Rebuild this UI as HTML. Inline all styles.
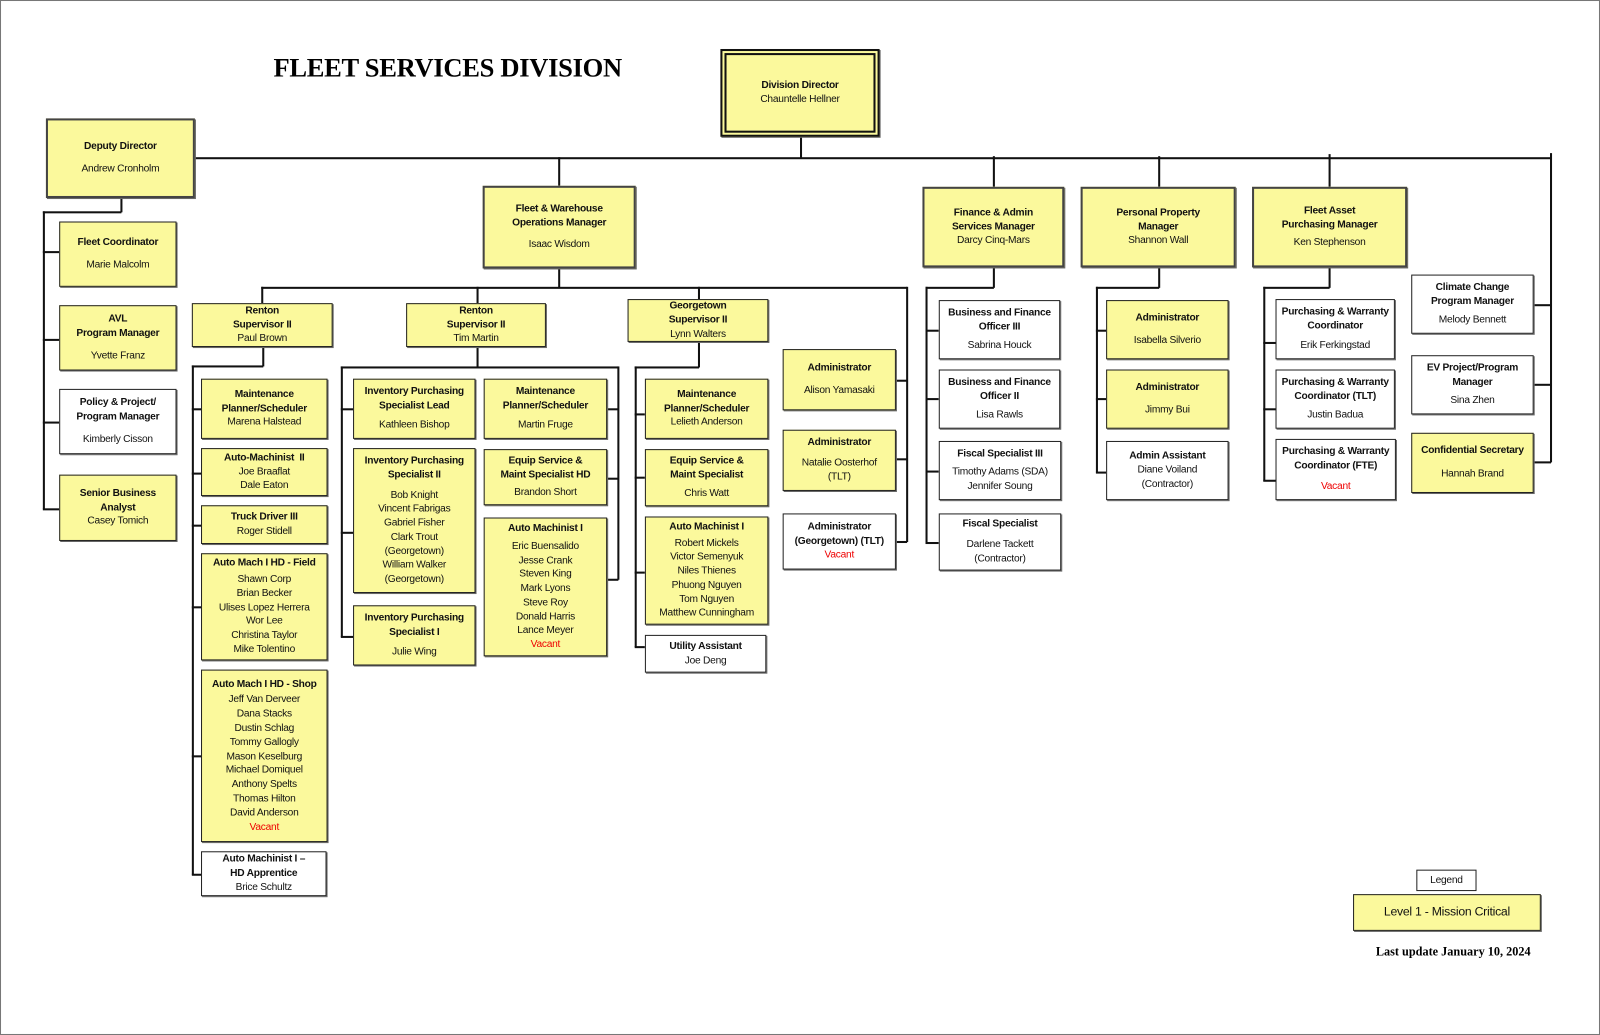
<!DOCTYPE html>
<html><head><meta charset="utf-8"><style>
html,body{margin:0;padding:0;background:#fff;}
#wrap{position:absolute;left:0;top:0;width:1568px;height:1014px;transform:scale(1.020408,1.020710);transform-origin:0 0;overflow:hidden;}
#frame{position:absolute;left:0;top:0;width:1566px;height:1012px;border:1px solid #777;}
.b{position:absolute;box-sizing:border-box;border:1.5px solid #222;background:#fbf99c;display:flex;flex-direction:column;justify-content:center;align-items:center;text-align:center;font-family:"Liberation Sans",sans-serif;font-size:10px;letter-spacing:-0.25px;white-space:nowrap;line-height:13.8px;color:#111;box-shadow:1px 1px 0 #666;}
.w{background:#fff;}
.b b{font-weight:bold;}
.v{color:#e00;}
.sp{height:8px;}
.l{position:absolute;background:#111;}
.h{height:1.5px;}
.vv{width:1.5px;}
</style></head><body><div id="wrap"><div id="frame"></div>

<div style="position:absolute;left:268px;top:52px;font-family:'Liberation Serif',serif;font-weight:bold;font-size:26px;letter-spacing:-0.3px;">FLEET SERVICES DIVISION</div>

<!-- lines -->
<div class="l h" style="left:191px;top:154px;width:1329px;"></div>
<div class="l vv" style="left:784px;top:134px;height:21px;"></div>
<div class="l vv" style="left:547px;top:154px;height:28px;"></div>
<div class="l vv" style="left:973px;top:153px;height:30px;"></div>
<div class="l vv" style="left:1135px;top:153px;height:30px;"></div>
<div class="l vv" style="left:1302px;top:151px;height:32px;"></div>
<div class="l vv" style="left:1519px;top:150px;height:303px;"></div>
<div class="l h" style="left:1503px;top:298px;width:17px;"></div>
<div class="l h" style="left:1503px;top:376px;width:17px;"></div>
<div class="l h" style="left:1503px;top:452px;width:17px;"></div>

<div class="l vv" style="left:118px;top:194px;height:14px;"></div>
<div class="l h" style="left:42px;top:207px;width:77px;"></div>
<div class="l vv" style="left:42px;top:207px;height:292px;"></div>
<div class="l h" style="left:42px;top:246px;width:16px;"></div>
<div class="l h" style="left:42px;top:332px;width:16px;"></div>
<div class="l h" style="left:42px;top:413px;width:16px;"></div>
<div class="l h" style="left:42px;top:498px;width:16px;"></div>

<div class="l vv" style="left:547px;top:263px;height:19px;"></div>
<div class="l h" style="left:256px;top:281px;width:633px;"></div>
<div class="l vv" style="left:256px;top:281px;height:16px;"></div>
<div class="l vv" style="left:467px;top:281px;height:16px;"></div>
<div class="l vv" style="left:684px;top:281px;height:12px;"></div>
<div class="l vv" style="left:888px;top:281px;height:250px;"></div>
<div class="l h" style="left:878px;top:372px;width:11px;"></div>
<div class="l h" style="left:878px;top:449px;width:11px;"></div>
<div class="l h" style="left:878px;top:530px;width:11px;"></div>

<div class="l vv" style="left:257px;top:340px;height:19px;"></div>
<div class="l h" style="left:188px;top:358px;width:70px;"></div>
<div class="l vv" style="left:188px;top:358px;height:499px;"></div>
<div class="l h" style="left:188px;top:400px;width:9px;"></div>
<div class="l h" style="left:188px;top:463px;width:9px;"></div>
<div class="l h" style="left:188px;top:514px;width:9px;"></div>
<div class="l h" style="left:188px;top:594px;width:9px;"></div>
<div class="l h" style="left:188px;top:740px;width:9px;"></div>
<div class="l h" style="left:188px;top:856px;width:9px;"></div>

<div class="l vv" style="left:467px;top:340px;height:20px;"></div>
<div class="l h" style="left:334px;top:359px;width:272px;"></div>
<div class="l vv" style="left:334px;top:359px;height:265px;"></div>
<div class="l vv" style="left:605px;top:359px;height:209px;"></div>
<div class="l h" style="left:334px;top:400px;width:12px;"></div>
<div class="l h" style="left:334px;top:521px;width:12px;"></div>
<div class="l h" style="left:334px;top:623px;width:12px;"></div>
<div class="l h" style="left:595px;top:400px;width:11px;"></div>
<div class="l h" style="left:595px;top:468px;width:11px;"></div>
<div class="l h" style="left:595px;top:567px;width:11px;"></div>

<div class="l vv" style="left:684px;top:335px;height:25px;"></div>
<div class="l h" style="left:622px;top:359px;width:63px;"></div>
<div class="l vv" style="left:622px;top:359px;height:275px;"></div>
<div class="l h" style="left:622px;top:405px;width:10px;"></div>
<div class="l h" style="left:622px;top:467px;width:10px;"></div>
<div class="l h" style="left:622px;top:560px;width:10px;"></div>
<div class="l h" style="left:622px;top:633px;width:10px;"></div>

<div class="l vv" style="left:973px;top:262px;height:20px;"></div>
<div class="l h" style="left:907px;top:281px;width:67px;"></div>
<div class="l vv" style="left:907px;top:281px;height:251px;"></div>
<div class="l h" style="left:907px;top:323px;width:13px;"></div>
<div class="l h" style="left:907px;top:390px;width:13px;"></div>
<div class="l h" style="left:907px;top:461px;width:13px;"></div>
<div class="l h" style="left:907px;top:531px;width:13px;"></div>

<div class="l vv" style="left:1135px;top:262px;height:20px;"></div>
<div class="l h" style="left:1074px;top:281px;width:62px;"></div>
<div class="l vv" style="left:1074px;top:281px;height:182px;"></div>
<div class="l h" style="left:1074px;top:323px;width:10px;"></div>
<div class="l h" style="left:1074px;top:390px;width:10px;"></div>
<div class="l h" style="left:1074px;top:462px;width:10px;"></div>

<div class="l vv" style="left:1302px;top:262px;height:20px;"></div>
<div class="l h" style="left:1238px;top:281px;width:65px;"></div>
<div class="l vv" style="left:1238px;top:281px;height:190px;"></div>
<div class="l h" style="left:1238px;top:335px;width:12px;"></div>
<div class="l h" style="left:1238px;top:400px;width:12px;"></div>
<div class="l h" style="left:1238px;top:470px;width:12px;"></div>

<!-- boxes -->
<div class="b" style="left:706px;top:48px;width:156px;height:86px;border:2.5px solid #111;padding:2px;">
 <div style="width:100%;height:100%;box-sizing:border-box;border:2.5px solid #111;display:flex;flex-direction:column;justify-content:center;"><b>Division Director</b>Chauntelle Hellner</div></div>
<div class="b" style="left:45px;top:116px;width:146px;height:78px;border:2.5px solid #444;"><b>Deputy Director</b><div class="sp"></div>Andrew Cronholm</div>

<div class="b" style="left:58px;top:217px;width:115px;height:64px;"><b>Fleet Coordinator</b><div class="sp"></div>Marie Malcolm</div>
<div class="b" style="left:58px;top:299px;width:115px;height:64px;"><b>AVL<br>Program Manager</b><div class="sp"></div>Yvette Franz</div>
<div class="b w" style="left:58px;top:381px;width:115px;height:64px;"><b>Policy &amp; Project/<br>Program Manager</b><div class="sp"></div>Kimberly Cisson</div>
<div class="b" style="left:58px;top:465px;width:115px;height:65px;"><b>Senior Business<br>Analyst</b>Casey Tomich</div>

<div class="b" style="left:473px;top:182px;width:150px;height:81px;border:2px solid #444;"><b>Fleet &amp; Warehouse<br>Operations Manager</b><div class="sp"></div>Isaac Wisdom</div>
<div class="b" style="left:904px;top:183px;width:139px;height:79px;border:2px solid #444;"><b>Finance &amp; Admin<br>Services Manager</b>Darcy Cinq-Mars</div>
<div class="b" style="left:1059px;top:183px;width:152px;height:79px;border:2px solid #444;"><b>Personal Property<br>Manager</b>Shannon Wall</div>
<div class="b" style="left:1227px;top:183px;width:152px;height:79px;border:2px solid #444;"><b>Fleet Asset<br>Purchasing Manager</b><div style="height:4px"></div>Ken Stephenson</div>

<div class="b" style="left:188px;top:297px;width:138px;height:43px;"><b>Renton<br>Supervisor II</b>Paul Brown</div>
<div class="b" style="left:398px;top:297px;width:137px;height:43px;"><b>Renton<br>Supervisor II</b>Tim Martin</div>
<div class="b" style="left:615px;top:293px;width:138px;height:42px;"><b>Georgetown<br>Supervisor II</b>Lynn Walters</div>

<div class="b" style="left:197px;top:371px;width:124px;height:59px;"><b>Maintenance<br>Planner/Scheduler</b>Marena Halstead</div>
<div class="b" style="left:197px;top:439px;width:124px;height:47px;"><b>Auto-Machinist &nbsp;II</b>Joe Braaflat<br>Dale Eaton</div>
<div class="b" style="left:197px;top:495px;width:124px;height:38px;"><b>Truck Driver III</b>Roger Stidell</div>
<div class="b" style="left:197px;top:542px;width:124px;height:105px;"><b>Auto Mach I HD - Field</b><div style="height:2px"></div>Shawn Corp<br>Brian Becker<br>Ulises Lopez Herrera<br>Wor Lee<br>Christina Taylor<br>Mike Tolentino</div>
<div class="b" style="left:197px;top:656px;width:124px;height:169px;"><b>Auto Mach I HD - Shop</b><div style="height:2px"></div>Jeff Van Derveer<br>Dana Stacks<br>Dustin Schlag<br>Tommy Gallogly<br>Mason Keselburg<br>Michael Domiquel<br>Anthony Spelts<br>Thomas Hilton<br>David Anderson<br><span class="v">Vacant</span></div>
<div class="b w" style="left:197px;top:834px;width:123px;height:44px;"><b>Auto Machinist I –<br>HD Apprentice</b>Brice Schultz</div>

<div class="b" style="left:346px;top:371px;width:120px;height:59px;"><b>Inventory Purchasing<br>Specialist Lead</b><div style="height:6px"></div>Kathleen Bishop</div>
<div class="b" style="left:346px;top:439px;width:120px;height:142px;"><b>Inventory Purchasing<br>Specialist II</b><div style="height:6px"></div>Bob Knight<br>Vincent Fabrigas<br>Gabriel Fisher<br>Clark Trout<br>(Georgetown)<br>William Walker<br>(Georgetown)</div>
<div class="b" style="left:346px;top:593px;width:120px;height:59px;"><b>Inventory Purchasing<br>Specialist I</b><div style="height:6px"></div>Julie Wing</div>
<div class="b" style="left:474px;top:371px;width:121px;height:59px;"><b>Maintenance<br>Planner/Scheduler</b><div style="height:5px"></div>Martin Fruge</div>
<div class="b" style="left:474px;top:440px;width:121px;height:55px;"><b>Equip Service &amp;<br>Maint Specialist HD</b><div style="height:4px"></div>Brandon Short</div>
<div class="b" style="left:474px;top:507px;width:121px;height:136px;"><b>Auto Machinist I</b><div style="height:4px"></div>Eric Buensalido<br>Jesse Crank<br>Steven King<br>Mark Lyons<br>Steve Roy<br>Donald Harris<br>Lance Meyer<br><span class="v">Vacant</span></div>

<div class="b" style="left:632px;top:371px;width:121px;height:59px;"><b>Maintenance<br>Planner/Scheduler</b>Lelieth Anderson</div>
<div class="b" style="left:632px;top:440px;width:121px;height:56px;"><b>Equip Service &amp;<br>Maint Specialist</b><div style="height:4px"></div>Chris Watt</div>
<div class="b" style="left:632px;top:506px;width:121px;height:106px;"><b>Auto Machinist I</b><div style="height:2px"></div>Robert Mickels<br>Victor Semenyuk<br>Niles Thienes<br>Phuong Nguyen<br>Tom Nguyen<br>Matthew Cunningham</div>
<div class="b w" style="left:632px;top:622px;width:119px;height:37px;"><b>Utility Assistant</b>Joe Deng</div>

<div class="b" style="left:767px;top:342px;width:111px;height:60px;"><b>Administrator</b><div class="sp"></div>Alison Yamasaki</div>
<div class="b" style="left:767px;top:421px;width:111px;height:60px;"><b>Administrator</b><div style="height:6px"></div>Natalie Oosterhof<br>(TLT)</div>
<div class="b w" style="left:767px;top:503px;width:111px;height:55px;"><b>Administrator<br>(Georgetown) (TLT)</b><span class="v">Vacant</span></div>

<div class="b w" style="left:920px;top:294px;width:119px;height:58px;"><b>Business and Finance<br>Officer III</b><div style="height:4px"></div>Sabrina Houck</div>
<div class="b w" style="left:920px;top:362px;width:119px;height:58px;"><b>Business and Finance<br>Officer II</b><div style="height:4px"></div>Lisa Rawls</div>
<div class="b w" style="left:920px;top:432px;width:120px;height:58px;"><b>Fiscal Specialist III</b><div style="height:4px"></div>Timothy Adams (SDA)<br>Jennifer Soung</div>
<div class="b w" style="left:920px;top:503px;width:120px;height:56px;"><b>Fiscal Specialist</b><div style="height:6px"></div>Darlene Tackett<br>(Contractor)</div>

<div class="b" style="left:1084px;top:294px;width:120px;height:58px;"><b>Administrator</b><div class="sp"></div>Isabella Silverio</div>
<div class="b" style="left:1084px;top:362px;width:120px;height:58px;"><b>Administrator</b><div class="sp"></div>Jimmy Bui</div>
<div class="b w" style="left:1084px;top:432px;width:120px;height:58px;"><b>Admin Assistant</b>Diane Voiland<br>(Contractor)</div>

<div class="b w" style="left:1250px;top:293px;width:117px;height:59px;"><b>Purchasing &amp; Warranty<br>Coordinator</b><div style="height:6px"></div>Erik Ferkingstad</div>
<div class="b w" style="left:1250px;top:362px;width:117px;height:58px;"><b>Purchasing &amp; Warranty<br>Coordinator (TLT)</b><div style="height:4px"></div>Justin Badua</div>
<div class="b w" style="left:1250px;top:430px;width:118px;height:60px;"><b>Purchasing &amp; Warranty<br>Coordinator (FTE)</b><div style="height:6px"></div><span class="v">Vacant</span></div>

<div class="b w" style="left:1383px;top:269px;width:120px;height:58px;"><b>Climate Change<br>Program Manager</b><div style="height:4px"></div>Melody Bennett</div>
<div class="b w" style="left:1383px;top:348px;width:120px;height:58px;"><b>EV Project/Program<br>Manager</b><div style="height:4px"></div>Sina Zhen</div>
<div class="b" style="left:1383px;top:424px;width:120px;height:59px;"><b>Confidential Secretary</b><div style="height:9px"></div>Hannah Brand</div>

<div class="b w" style="left:1388px;top:852px;width:59px;height:21px;box-shadow:none;">Legend</div>
<div class="b" style="left:1326px;top:876px;width:184px;height:36px;font-size:12px;">Level 1 - Mission Critical</div>
<div style="position:absolute;left:1300px;top:925px;width:200px;text-align:right;font-family:'Liberation Serif',serif;font-weight:bold;font-size:12px;">Last update January 10, 2024</div>
</div></body></html>
